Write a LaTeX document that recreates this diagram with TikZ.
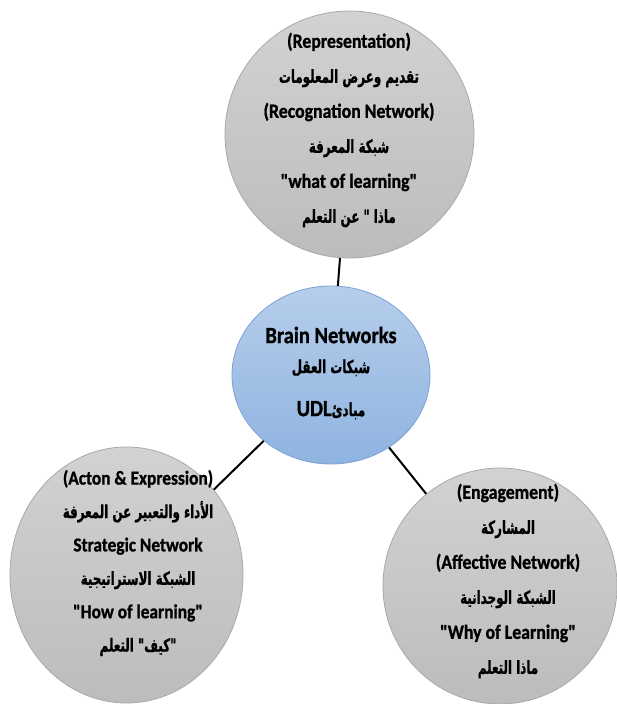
\documentclass[tikz,border=0pt]{standalone}
\usepackage{fontspec}
\setmainfont{Carlito}[Ligatures=TeXOff,FakeStretch=0.88,BoldFeatures={FakeBold=1}]
\newfontfamily\arabicfont[Script=Arabic,FakeStretch=0.66,BoldFeatures={FakeBold=1}]{DejaVu Sans}
\TeXXeTstate=1
\usepackage{xcolor}
\usetikzlibrary{shapes.geometric}
\definecolor{disctop}{HTML}{D2D2D2}
\definecolor{discbot}{HTML}{BCBCBC}
\definecolor{discrim}{HTML}{A9A9A9}
\definecolor{hubtop}{HTML}{B6CEEB}
\definecolor{hubbot}{HTML}{8FB3E0}
\definecolor{hubrim}{HTML}{7DA3D4}
\newcommand{\arb}[1]{{\arabicfont\fontsize{18}{18}\selectfont\beginR #1\endR}}

\begin{document}
\begin{tikzpicture}[x=1pt,y=-1pt,
  disc/.style={ellipse,draw=discrim,line width=0.8pt,top color=disctop,bottom color=discbot,inner sep=0pt},
  hub/.style={ellipse,draw=hubrim,line width=0.8pt,top color=hubtop,bottom color=hubbot,inner sep=0pt},
  txt/.style={align=center,inner sep=0pt,font=\bfseries\fontsize{20.2}{35}\selectfont},
  link/.style={draw=black,line width=2pt}]
\useasboundingbox[fill=white] (0,0) rectangle (617,704);

% circles
\node[disc,minimum width=249pt,minimum height=247pt] (repr) at (349.5,134.5) {};
\node[hub,minimum width=198pt,minimum height=178pt] (brain) at (331,375) {};
\node[disc,minimum width=233pt,minimum height=256pt] (acts) at (126.5,575) {};
\node[disc,minimum width=234pt,minimum height=236pt] (engage) at (500,586) {};

\draw[link] (repr) -- (brain);
\draw[link] (brain) -- (acts);
\draw[link] (brain) -- (engage);

% texts
\node[txt] (reprtxt) at (349,130) {(Representation)\\ \arb{تقديم وعرض المعلومات}\\ (Recognation Network)\\ \arb{شبكة المعرفة}\\ "what of learning"\\ \arb{ماذا " عن التعلم}};
\node[txt,font=\bfseries\fontsize{23.3}{30}\selectfont] (braintxt) at (331,373) {Brain Networks\\ \arb{شبكات العقل}\\[13pt] \beginR{\arabicfont\fontsize{18}{18}\selectfont مبادئ}\beginL UDL\endL\endR};
\node[txt,font=\bfseries\fontsize{19.7}{33.4}\selectfont] (actstxt) at (138,563) {(Acton \& Expression)\\ \arb{الأداء والتعبير عن المعرفة}\\ Strategic Network\\ \arb{الشبكة الاستراتيجية}\\ "How of learning"\\ \arb{"كيف" التعلم}};
\node[txt] (engagetxt) at (508,581) {(Engagement)\\ \arb{المشاركة}\\ (Affective Network)\\ \arb{الشبكة الوجدانية}\\ "Why of Learning"\\ \arb{ماذا التعلم}};
\end{tikzpicture}
\end{document}
